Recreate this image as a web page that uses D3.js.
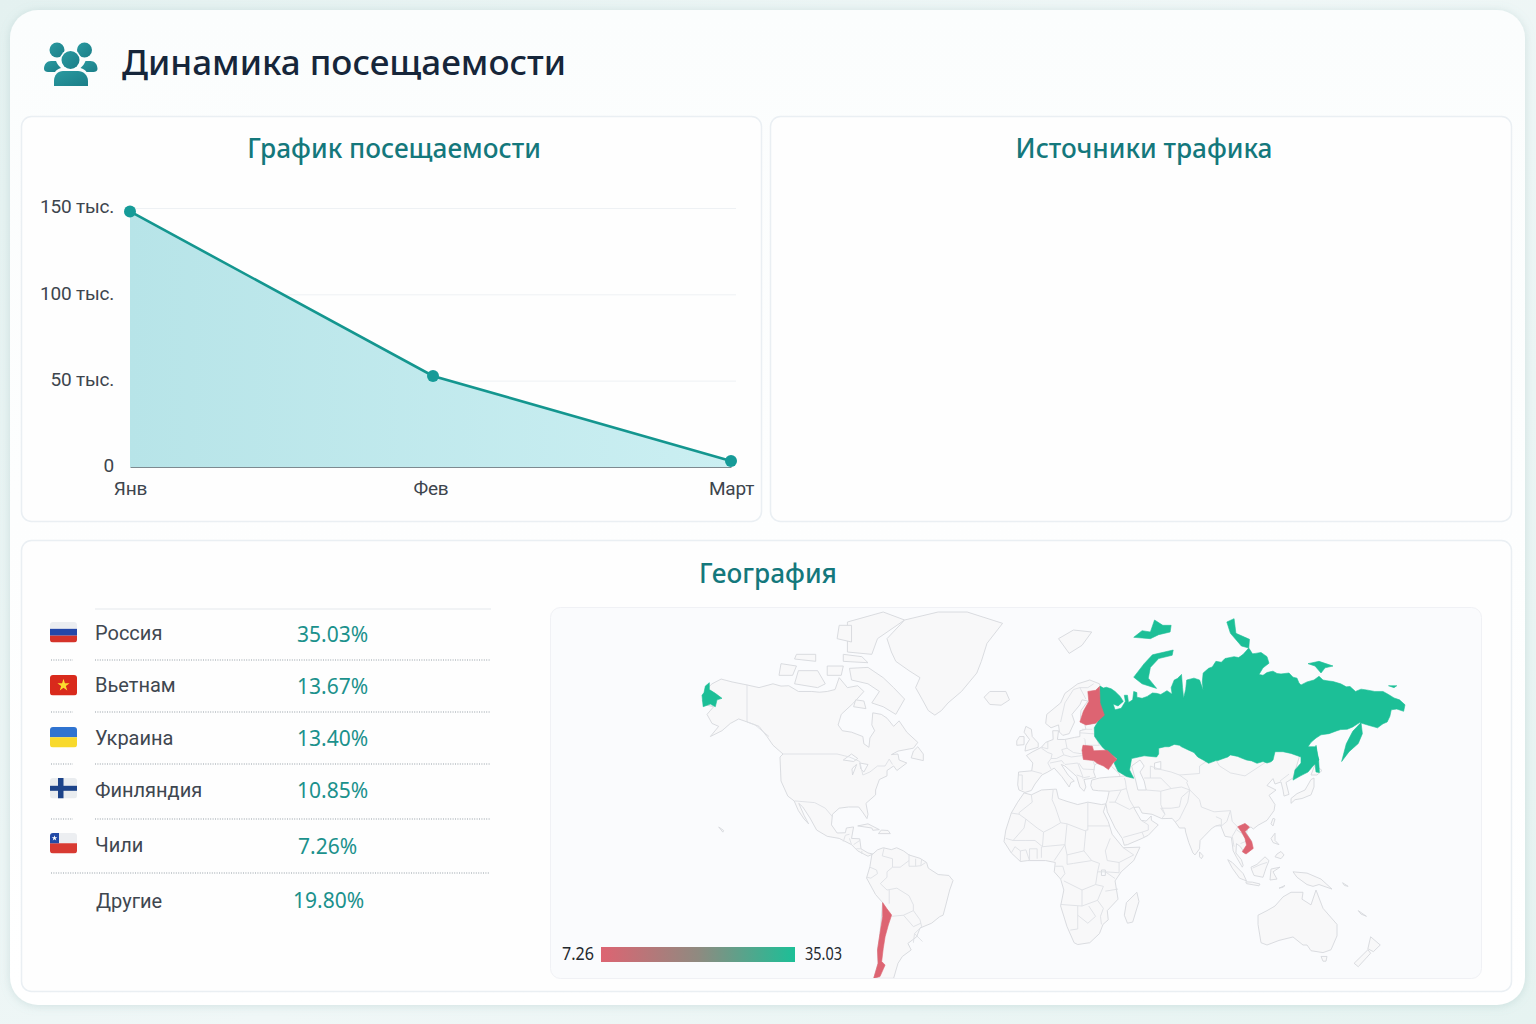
<!DOCTYPE html>
<html lang="ru">
<head>
<meta charset="utf-8">
<title>Динамика посещаемости</title>
<script src="https://cdn.jsdelivr.net/npm/d3@7"></script>
<style>
  html, body { margin: 0; padding: 0; width: 1536px; height: 1024px; overflow: hidden; background: linear-gradient(135deg, #e4f1f0, #f0f7f7 50%, #e6f3f1); }
  svg { display: block; }
  text { font-family: "Noto Sans", sans-serif; }
  .tick-label { font-family: Roboto, sans-serif; font-size: 19px; fill: #3d454d; }
</style>
</head>
<body>
<svg id="chart" width="1536" height="1024"></svg>
<script>
// attendance chart
const months = ['Янв', 'Фев', 'Март'];
const visits = [148, 52.7, 3.5];
const yTicks = [0, 50, 100, 150];

// geography table
const countries = ['Россия', 'Вьетнам', 'Украина', 'Финляндия', 'Чили', 'Другие'];
const shares = [35.03, 13.67, 13.4, 10.85, 7.26, 19.8];
const flagCodes = ['ru', 'vn', 'ua', 'fi', 'cl', null];

// outlines, [lon, lat]
const russia = [[31.3,69.4],[33,68.9],[34.5,69.1],[37,68.7],[39,68],[41.5,66.7],[43,65.4],[40.5,64.2],[38,64.7],[39,63.2],[42,63.6],[44,65.4],[43.5,67],[45,67],[45.5,65.1],[47.5,65.8],[48,68],[49.5,67.7],[49.5,66.5],[52,66.2],[54.5,66.7],[57,67.6],[59,67.5],[61,67.2],[64,68.2],[66.5,67.3],[66,69],[67.5,71],[69,71.3],[71,72.2],[71.5,69],[72,66.2],[73,68.5],[73.5,71],[77,71.4],[80,71],[82,68.4],[81.5,70.5],[82,72.5],[85,73.5],[87,73.8],[89,75],[92,74.8],[94,75.6],[99,76],[101.5,75.8],[104,76.5],[107.5,77.6],[110,76.6],[112,76.7],[115,76.9],[118,76],[119,74.6],[116,73.6],[114,72.2],[116,72],[118,72.6],[121,72.9],[123,72.4],[125,72.3],[129,72.5],[131,71.6],[133,71.4],[134,70.2],[135,69.7],[138,70.5],[141.5,71],[144,71.8],[146,71],[148,70.8],[151,70.6],[155,70],[158,69.2],[160,69.3],[162,68],[164,68.6],[166,68.4],[169,68],[172,68],[174,67.2],[176,66.3],[178,65.8],[180,64.5],[179.5,62.8],[177,63.4],[175,63.2],[174.5,61.5],[173.5,60],[172,59.4],[170,58],[167,58.8],[163.5,59.8],[161,58.3],[158.5,57.5],[155,57.4],[153,57],[149,56],[145,55.6],[142.5,54.5],[140,53],[138.5,51.5],[142.5,51.5],[143,49],[144,47],[141,45],[138.5,43],[135,41.8],[131,40.3],[132,43.7],[135,46],[135,48],[130,49.2],[126,49.8],[122,49.8],[121,47],[120,46.4],[118,46],[116,46.5],[113,45.9],[109.5,46.7],[106,47],[102,47.9],[101,48.2],[97,48.7],[95.5,48],[93.5,47.6],[90,46.8],[89,46.8],[85,45.9],[82,47],[79,48],[77,49.5],[74.5,50.3],[71,51.5],[70,52],[67.5,52.3],[65,51.5],[63,51.5],[60,51],[60,49],[59,48],[53,48.4],[47,47.5],[46,43.7],[48,40.9],[44.5,41.5],[40.5,43.2],[38.5,46],[40,47.5],[35,49.8],[32.3,51.5],[28.5,55],[28.3,58],[32,61.7],[30.5,65]];
const russiaFarEast = [[-163.6,70.3],[-166,69.4],[-166.8,67.7],[-168,67],[-167.3,64],[-163,64.7],[-160,64],[-159,65.8],[-156,66.2],[-160,67.5],[-163.6,68.5]];
const novayaZemlya = [[48,71.6],[53,74.5],[57,76.4],[67,77.3],[66.5,76.3],[60,75.6],[56,73.7],[55,71.4],[59,68.8],[52,70]];
const kamchatka = [[164,59.8],[161,56.8],[158,52.5],[155.5,46.5],[159.5,49.8],[163,52.6],[164.5,56]];
const sakhalin = [[142.5,52],[141.8,47],[142.5,43],[144.2,42.8],[143.8,47]];
const severnaya = [[95,81.5],[99,82],[100,79.8],[108,78.9],[107.5,77.6],[103,77.9],[97,79.8]];
const franzJosef = [[48,79.2],[52,80.2],[56,80],[58,81.8],[62,81],[66,81],[65.5,80],[60,79.6],[56,79]];
const newSiberian = [[138.5,74.5],[144,75],[151,74],[147,73.6],[145,72.5],[142,74]];
const wrangel = [[174,69.5],[177,69.5],[176,69]];

const finland = [[31,69.3],[29,68.3],[25,68],[25.5,65.4],[22.7,62.8],[21,60],[24,59],[29,59.6],[33.5,61.8],[31.3,65]];
const ukraine = [[22.5,52],[27.3,51.7],[28,50.1],[35,50.3],[40,47.2],[37.9,46],[35.6,43.8],[33,45],[30,45.8],[28,46.8],[22.7,47.2],[22,50.3]];
const vietnam = [[101,21.6],[105,23.2],[108,21.5],[105,19.2],[109.5,14.4],[110.5,11.2],[105.7,8.5],[103.5,9.6],[106,12.8],[105,16],[103,19.2]];
const chile = [[-72.3,-16.5],[-70.2,-19],[-67.9,-21.9],[-69.4,-26.3],[-71,-31.4],[-72,-37],[-72.8,-43.7],[-71,-45.5],[-73.7,-51.6],[-77,-52.5],[-74.7,-44.6],[-75,-37.6],[-73.7,-30],[-72.3,-22.7]];

const northAmerica = [[-168,65.6],[-164,66.5],[-166,68.3],[-162,70],[-156.5,71.2],[-150,70.5],[-141,69.7],[-135,69],[-128,70],[-124,69.4],[-120,69.5],[-115,68],[-108,68],[-104,67.8],[-100,68],[-96,68.5],[-94,71.5],[-90,69],[-85,69.5],[-82,68],[-87,65],[-93,62],[-94.5,59],[-92.5,57],[-88,56.5],[-82.5,55],[-82,52.5],[-79.5,51.3],[-79,54.5],[-76.5,57],[-78,59],[-77.5,62.4],[-73,62],[-70,61],[-67,58.5],[-64.5,60.3],[-61,56.5],[-56,53],[-58,51],[-65,50],[-68,48.8],[-65,49],[-64.5,47],[-61,46],[-65.5,43.5],[-67,45],[-70,43.5],[-70,41.7],[-74,40.5],[-76,37],[-76,35],[-81,31.5],[-80,27],[-80.5,25.2],[-82.7,28],[-84.5,30],[-89.5,30],[-94,29.5],[-97.3,27],[-97.8,22.5],[-95,18.6],[-91,18.7],[-90.5,21],[-87,21.5],[-88,16],[-84,15.8],[-83.4,11],[-80,9],[-77.5,8.5],[-80,7.3],[-85,10],[-88,13],[-94,16],[-100,17],[-105.5,20],[-109,25.5],[-112.7,30],[-114.8,31.5],[-112,26.5],[-109.7,23],[-112,25],[-115,28.5],[-117.2,32.5],[-120.5,34.5],[-124,40],[-124.5,48],[-123,49],[-128,52],[-131,55],[-135,58.5],[-140,59.8],[-146,60.8],[-151,59.5],[-156,57],[-163,55],[-158,58.5],[-162,59.5],[-165,62],[-161,64],[-166,64.5]];
const southAmerica = [[-78,8],[-75,10.5],[-72,11.5],[-68,10.6],[-65.6,11.5],[-62.5,10],[-60,8],[-55,6.2],[-51,4],[-50,1],[-44,-2.5],[-37.5,-3],[-35,-5.8],[-37,-11],[-39.5,-18],[-41,-22],[-43,-22.6],[-48,-25.5],[-55,-27.6],[-56.5,-31.4],[-60.5,-34.3],[-59,-37.6],[-63,-41],[-65,-44.6],[-67,-52.5],[-77,-52.5],[-74.7,-44.6],[-75,-37.6],[-73.7,-30],[-72.3,-16.5],[-76,-13],[-80.7,-4.4],[-79,1.8]];
const africa = [[-6,35.8],[-2,35],[3,37],[10,37.3],[11,33.5],[15,32.3],[20,31],[25,32],[32,31],[34.3,31.3],[33,28],[35.5,24],[37.5,18],[43,11.5],[51,11.8],[48,5],[42,-1],[39,-6],[40.5,-15],[35,-20],[35.5,-24],[32.8,-26],[31,-30],[26,-34],[20,-34.8],[18.3,-34],[15,-27],[12,-18],[13.5,-11],[12,-5],[9,-1],[9.5,4],[5,5],[-4,5],[-8,4.5],[-13,9],[-17,14.5],[-16,20],[-13,27.5],[-9.5,32]];
const eurasia = [[31,70],[26,71],[20,70],[14,67.5],[12,65],[5.5,62],[5,59.5],[7.5,58],[11,59],[11.5,56.5],[13,55.4],[16,56],[18.5,60],[17.3,62],[21,64.5],[22,65.8],[25,65.5],[21.5,63],[21.3,61],[23,60],[30,60],[28,59.5],[23.5,59],[24,57.5],[21,57],[21,55],[18.5,54.7],[14,54],[10.5,54],[11,57],[8.3,57],[8.5,54],[5,53],[3,51.3],[-1.5,49.7],[-4.7,48.5],[-1.2,46],[-1.8,43.4],[-9,43],[-9.5,38.7],[-8.8,37],[-5.5,36],[-2,36.8],[0,39],[3.2,42],[6,43],[9,44.3],[12.5,41.5],[16,38],[16.8,39.5],[18.4,40],[15.5,42],[12.3,45.5],[14,45],[19.5,41.5],[21,38],[23,36.5],[24,38],[23,40.5],[26,40.8],[29,41.2],[28,43],[28.5,45.2],[30.7,46.5],[33,46],[37,46.5],[38,47],[37,45],[41,42.5],[41.5,41.5],[36,41.3],[31,41],[27,40.3],[26.5,38.5],[27.5,37],[30.5,36.7],[36,36.5],[35,33],[34.3,31.3],[34.7,29.5],[35,28],[39,21],[42.5,16],[43.5,12.7],[45,13],[52,16],[55,17.5],[59.8,22.5],[56.5,24.5],[56.4,26.3],[54,24.2],[51.5,24.5],[50.5,26],[48,29.8],[50.5,30],[52,27.5],[56.8,27],[61.5,25.2],[66.5,25.3],[68,23.8],[70,21],[72.7,21],[73,19],[74.5,14],[76.5,9],[77.5,8],[80,11],[80.3,15],[82.5,17],[87,21],[89,22],[91.5,22.5],[94,17],[97.5,16.5],[98.5,10],[100.5,6.5],[103.5,1.5],[104,2.5],[103,5.5],[100,9],[100.3,13.5],[102.5,12],[105,8.6],[106.5,10],[109,11.5],[109,15],[106,18.5],[106.7,20.5],[109,21.5],[110.5,20.5],[113.5,22.3],[118,24.5],[121.5,28.5],[122,31],[119,34.8],[122.5,37],[118,38.5],[121,40.8],[122,39],[125,39.7],[126,37],[126.5,34.5],[129,35.2],[127.5,39.5],[131,41],[135,50],[100,52],[60,53],[42,52],[33,60],[33,66]];
const islands = [
  [[-62,66],[-66,62],[-72,64],[-78,65],[-74,68],[-80,70],[-88,71],[-89,73.5],[-80,73.7],[-72,71.5],[-67,69]],
  [[-117,70],[-105,69],[-101,70],[-105,73],[-115,73]],
  [[-125,72],[-118,72],[-116,74],[-124,74.5]],
  [[-90,77],[-78,76.5],[-75,79],[-62,81.8],[-72,83],[-90,81.5]],
  [[-92,75],[-80,74.7],[-83,76],[-92,76.5]],
  [[-117,75.5],[-106,75],[-106,76.5],[-116,76.5]],
  [[-95,79],[-88,78.5],[-88,81],[-94,81]],
  [[-87,64],[-81,63.5],[-82,65.5],[-86,65.8]],
  [[-100,72],[-93,72],[-92,74],[-100,74]],
  [[-59,47.7],[-53,46.8],[-53,49],[-56,51.5],[-58,50]],
  [[-62,81.8],[-70,79],[-68,77],[-66,75],[-60,73],[-55,71.5],[-57,69],[-53.5,65.8],[-50,63],[-46,61.8],[-42,63],[-38,65],[-32,68],[-26.6,72.5],[-25,75],[-23,78.3],[-17.5,81.3],[-30,83],[-44,83]],
  [[-24,66.5],[-22,64.6],[-18,64.4],[-14,65.8],[-16,68],[-22,68]],
  [[-5.5,50],[1.5,51.3],[1.5,52.8],[-1.5,55],[-2,57.5],[-5,58.5],[-6,56.5],[-3,54],[-5,52]],
  [[-10,52],[-6,52.2],[-6,55],[-8.5,55],[-10,53.5]],
  [[11,79],[16,76.7],[22,78],[27,80],[18,80.3]],
  [[-85,22],[-80,23],[-74,20.2],[-77.5,19.9],[-78,21]],
  [[-74.5,18.3],[-68.5,18.3],[-69.5,19.8],[-73,20]],
  [[-158,21.5],[-155,19.8],[-155.5,19]],
  [[49.5,-12],[50.5,-16],[47.5,-25],[45,-25.5],[43.5,-22],[44.5,-16.5]],
  [[80,9.5],[82,7.5],[81,6],[80,7]],
  [[130,31.5],[132,33],[135.5,33.5],[140,35],[141.5,38],[141.5,41],[140,40.5],[137,37],[133,35.5],[130,33.5]],
  [[140,42],[143,42],[145.5,43.5],[142,45.5]],
  [[120,23],[121,22],[122,25],[121,25.3]],
  [[120,16],[122,18.5],[122,15],[124,13],[121,14]],
  [[122,7],[125,6],[126.5,8],[125,9.7],[123,8.5]],
  [[109,1.5],[113,3],[117,7],[119,5],[117.5,1],[116,-4],[111,-3],[109.5,0]],
  [[95.5,5.5],[98,4],[104,-2],[106,-6],[102,-4.5],[98,1]],
  [[105.5,-6.5],[110,-6.7],[114.5,-7.7],[114,-8.7],[106,-7.5]],
  [[119.5,-5.5],[120,0.5],[124.5,1.5],[121,-1],[123,-5]],
  [[131,-1],[138,-1.7],[145,-5],[148,-8],[150.5,-10.5],[144,-8],[141,-9],[138,-8],[133,-4]],
  [[124,-10],[127,-8.5],[126,-9.5]],
  [[156,-7],[159,-9],[157,-8.5]],
  [[163,-20],[166,-22.5],[164,-21.5]],
  [[113.5,-22],[118,-20],[122,-18],[126,-14],[130,-12],[136,-12],[135.5,-15],[140,-17.5],[142.5,-11],[146,-19],[150,-23],[153,-26],[153,-31],[150,-37.5],[146,-39],[140,-38],[138,-35],[136,-35],[131,-31.5],[124,-33],[118,-35],[115,-34],[113.5,-26]],
  [[145,-41],[148,-41],[147.5,-43.5],[146,-43.5]],
  [[167.5,-31.4],[171,-35],[168.5,-38.5],[166.5,-37]],
  [[166.5,-37.5],[167.5,-39.3],[163,-46.4],[161.5,-44.6]]
];
const lakes = [
  [[47,45],[51,47],[53,45],[51,43],[53,40],[54,37],[50,37],[49,40]],
  [[58,46],[61,46.5],[61,44],[58,44]],
  [[-92,47],[-88,49],[-85,47.5],[-87,46.5]],
  [[-87.5,42],[-85.5,45.5],[-86.5,45],[-87.8,44]],
  [[-84,46],[-80,45.5],[-82,43],[-83.5,44]],
  [[32,0],[34,0],[34,-3],[32,-3]]
];
const borders = [
  [[-141,69.7],[-141,60],[-137,59],[-130,55]],
  [[-123,49],[-95,49],[-89,48],[-84,46.5],[-82.5,42],[-79,43],[-75,45],[-71,45],[-69,47.3],[-67.5,45.5]],
  [[-117,32.5],[-106.5,31.8],[-101,29.5],[-97.3,26]],
  [[-92,14.5],[-91,17.5],[-89,18]],[[-89,16],[-88,13]],[[-87,13],[-84,15]],[[-85.7,11],[-83.5,11]],[[-83,8.5],[-83,10]],
  [[-71.5,11.5],[-72.5,7.5],[-67.5,6],[-67.5,1.5],[-70,-1],[-70,-4]],
  [[-79,1.5],[-75.5,0],[-75,-2],[-78.5,-4.5],[-80.5,-4]],
  [[-60,8.5],[-60,5],[-60,2],[-57,2],[-54.5,2.3],[-51.5,4]],[[-57,6],[-57,2]],[[-54,5.8],[-54.5,2.3]],
  [[-70,-4],[-73.5,-7.5],[-70,-11],[-65.5,-10],[-60,-13.5],[-58,-17.5],[-58,-20],[-55,-24],[-54,-27],[-57.5,-30],[-53.5,-33.5]],
  [[-67.5,1.5],[-64,1.5],[-60,5]],[[-69,-11],[-69,-17]],[[-68,-22.5],[-62.5,-22],[-58,-20]],[[-62.5,-22],[-58,-27],[-54.5,-25.5]],[[-58,-34],[-57.5,-30]],
  [[-2,35],[-1.5,32],[-8.7,27.7],[-8.7,27],[-13,27.5]],[[-8.7,27],[-5,25],[-6,21],[-12,15],[-16,16]],
  [[-5,25],[1,21],[4,19],[7.5,20.8],[12,23.5],[9.5,30],[8,33],[8.5,37]],[[25,32],[25,20],[24,20]],[[12,23.5],[15,23],[24,19.5]],[[25,22],[36,22]],
  [[24,20],[23,10],[27,5]],[[36.5,16],[34,10],[35,5],[41,4],[48,8],[43,11.5]],[[4,19],[3.5,12],[0,15],[-5,15],[-12,15]],
  [[3,12],[3,6.5]],[[3.5,12],[14,13],[9,5]],[[14,13],[15,23]],[[14,13],[15,8],[23,10]],
  [[15,8],[15,3],[18,3.5],[27,5],[31,3.5],[30,-1],[29,-8],[22,-11],[13.5,-6]],[[34,-1],[41,-1.5],[41,4]],[[30,-1],[34,-1],[39,-4.7]],[[34,-11.5],[40.5,-10.5]],
  [[12,-17.3],[22,-18],[22,-11]],[[20,-18],[20,-28],[16.5,-28.5]],[[20,-22],[25,-25.5],[29,-22.5],[25.5,-18]],[[22,-18],[30,-15.5],[33,-9],[29,-8]],[[30,-15.5],[33,-19],[31.5,-22.5],[32,-26]],
  [[9.5,2],[13,2],[14,-2],[12,-5]],[[-8,4.5],[-8,10],[-5,10.5],[-3,5],[-3,11],[1,11],[1,6]],[[-13,9],[-11,12],[-8,10]],
  [[-1.8,43.4],[3.2,42.5]],[[-8.8,42],[-7,42],[-7,37]],[[3,51],[6,49.5],[8,49],[7.5,47.5],[6,46],[7.5,44]],
  [[14.2,54],[15,51],[12.5,50.5],[13.5,48.7],[10,47.5],[7.5,47.5]],[[7,46],[12.5,46.8],[13.7,45.7]],[[18,49.5],[22.5,49],[24,51],[23.5,54],[23,54.4]],
  [[21,56.3],[26.5,56],[28,56]],[[22,57.5],[27.3,57.5]],[[23.5,52],[31,52],[28,56]],[[15,51],[18,49.5]],[[13.5,48.7],[17,48],[22.5,48.5]],
  [[22,48],[27,48],[28.5,45.2]],[[20.5,46],[22.5,44],[28.5,43.8]],[[14,45.5],[20,46],[22.5,41.3],[19.5,42]],[[22,41],[26,41.5]],
  [[12,60],[14,65],[18,68.5],[21,69],[25,69],[28,70]],[[24,66],[21,69]],[[6,53.3],[6,50.8],[3,51.3]],
  [[36,36.5],[42,37],[44.5,37.5],[44,40],[43.5,41]],[[41.5,41.5],[46,41.8],[48,41.5]],[[44.5,37.5],[46,33],[48,30]],[[61,36.5],[61,31],[63,27],[61.5,25.2]],[[54,37],[61,36.5]],
  [[36,32],[39,32],[42,37]],[[39,32],[46,29],[48,30]],[[43,16.5],[52,19],[55,20],[55,22.5],[51.5,24.5]],[[52,19],[53,16.5]],
  [[53,41],[56,41],[56,45],[60,44],[66,43],[70,42],[80,42.5],[80,45],[85,47],[87,49]],[[56,41],[61,41],[66,37.5],[61,36.5]],
  [[66,37.5],[71,38],[75,37],[71,34],[70,30],[66,29.5],[61,29.5]],[[75,37],[74,32],[70,25],[68,23.8]],[[61,29.5],[63,27]],[[70,42],[74,40],[73.5,39.5],[75,37]],
  [[75,37],[80,33],[81,30],[88,28],[97,28.5],[95,24],[92,22]],[[97,28.5],[98,24],[101,21.5],[105,23]],[[101,21.5],[98,17],[99,12]],[[100.5,20],[104,18],[107,15],[102.5,13.5]],
  [[87,49],[91,45],[97,42.7],[105,41.7],[112,44],[119,47],[120,48]],[[124.5,40],[129,42.3]],[[89,26],[92,25],[92,22],[89,22]],[[110,1],[115,3],[118,4]]
];

const green = '#1cbf97';
const red = '#dd6472';
const teal = '#14968f';

const svg = d3.select('#chart');
const defs = svg.append('defs');

const shadow = defs.append('filter').attr('id', 'cardShadow').attr('x', '-5%').attr('y', '-5%').attr('width', '110%').attr('height', '110%');
shadow.append('feDropShadow').attr('dx', 0).attr('dy', 1).attr('stdDeviation', 5).attr('flood-color', '#7fa9a8').attr('flood-opacity', 0.28);

const cardGrad = defs.append('linearGradient').attr('id', 'cardFill').attr('x1', 0).attr('y1', 0).attr('x2', 0).attr('y2', 1);
cardGrad.append('stop').attr('offset', 0).attr('stop-color', '#fbfdfd');
cardGrad.append('stop').attr('offset', 1).attr('stop-color', '#ffffff');

const areaGrad = defs.append('linearGradient').attr('id', 'areaFill').attr('x1', 0).attr('y1', 0).attr('x2', 1).attr('y2', 0);
areaGrad.append('stop').attr('offset', 0).attr('stop-color', '#b7e4e8');
areaGrad.append('stop').attr('offset', 1).attr('stop-color', '#cbeff2');

const iconGrad = defs.append('linearGradient').attr('id', 'iconFill').attr('x1', 0).attr('y1', 0).attr('x2', 1).attr('y2', 1);
iconGrad.append('stop').attr('offset', 0).attr('stop-color', '#2a9aa0');
iconGrad.append('stop').attr('offset', 1).attr('stop-color', '#1b7e88');

const legendGrad = defs.append('linearGradient').attr('id', 'legendFill');
legendGrad.append('stop').attr('offset', 0).attr('stop-color', red);
legendGrad.append('stop').attr('offset', 0.5).attr('stop-color', '#8f8a80');
legendGrad.append('stop').attr('offset', 1).attr('stop-color', green);

defs.append('clipPath').attr('id', 'mapClip').append('rect')
  .attr('x', 550).attr('y', 607).attr('width', 932).attr('height', 371).attr('rx', 10);

// cards
svg.append('rect').attr('x', 10).attr('y', 10).attr('width', 1515).attr('height', 995).attr('rx', 28)
  .attr('fill', 'url(#cardFill)').attr('filter', 'url(#cardShadow)');

function panel(x, y, w, h) {
  svg.append('rect').attr('x', x).attr('y', y).attr('width', w).attr('height', h).attr('rx', 10)
    .attr('fill', '#fefefe').attr('stroke', '#eaeff3').attr('stroke-width', 1.5);
}
panel(21.5, 116.5, 740, 405);
panel(770.5, 116.5, 741, 405);
panel(21.5, 540.5, 1490, 451);

// header icon
const icon = svg.append('g').attr('fill', 'url(#iconFill)');
[[57, 50, 7.5], [84.5, 50, 7.5]].forEach(c => icon.append('circle').attr('cx', c[0]).attr('cy', c[1]).attr('r', c[2]));
icon.append('path').attr('d', 'M44 69c0-5 3-8 7-8h5c1 3 3 5 5 7-3 1-5 2-6 4h-7c-2 0-4-1-4-3z');
icon.append('path').attr('d', 'M97.5 69c0-5-3-8-7-8h-5c-1 3-3 5-5 7 3 1 5 2 6 4h7c2 0 4-1 4-3z');
icon.append('circle').attr('cx', 70.5).attr('cy', 60).attr('r', 10.5).attr('fill', '#ffffff');
icon.append('circle').attr('cx', 70.5).attr('cy', 60).attr('r', 9);
icon.append('path').attr('d', 'M54 86v-5c0-6 4-10 9-10h15c5 0 10 4 10 10v5z');

svg.append('text').attr('x', 122).attr('y', 75).attr('font-size', 35).attr('font-weight', 500).attr('fill', '#16263a').text('Динамика посещаемости');

function sectionTitle(label, cx, y) {
  svg.append('text').attr('x', cx).attr('y', y).attr('text-anchor', 'middle')
    .attr('font-size', 26.2).attr('font-weight', 500).attr('fill', '#14787c').text(label);
}
sectionTitle('График посещаемости', 394, 158);
sectionTitle('Источники трафика', 1144, 158);
sectionTitle('География', 768, 583);

// line chart
const x = d3.scaleLinear().domain([0, 1, 2]).range([130, 433, 731]);
const xLabels = d3.scalePoint().domain(months).range([130, 731]);
const y = d3.scaleLinear().domain([0, 150]).range([467, 208]);

const grid = svg.append('g').attr('transform', 'translate(130,0)')
  .call(d3.axisLeft(y).tickValues(yTicks.slice(1)).tickSize(-606).tickFormat(''));
grid.select('.domain').remove();
grid.selectAll('line').attr('stroke', '#eef1f4');

const yAxis = svg.append('g').attr('transform', 'translate(130,0)')
  .call(d3.axisLeft(y).tickValues(yTicks).tickSize(0).tickPadding(16).tickFormat(d => d === 0 ? '0' : d + ' тыс.'));
yAxis.select('.domain').remove();
yAxis.selectAll('text').attr('class', 'tick-label').attr('dy', '0.25em').style('letter-spacing', '-0.2px');

const area = d3.area().x((d, i) => x(i)).y0(y(0)).y1(d => y(d));
const line = d3.line().x((d, i) => x(i)).y(d => y(d));
svg.append('path').datum(visits).attr('d', area).attr('fill', 'url(#areaFill)');

const xAxis = svg.append('g').attr('transform', `translate(0,${y(0)})`)
  .call(d3.axisBottom(xLabels).tickSize(0).tickPadding(15));
xAxis.select('.domain').attr('stroke', '#7d8a90').attr('stroke-width', 1.2);
xAxis.selectAll('text').attr('class', 'tick-label').style('letter-spacing', '-0.2px');

svg.append('path').datum(visits).attr('d', line).attr('fill', 'none').attr('stroke', teal).attr('stroke-width', 2.6);
svg.selectAll('.dot').data(visits).join('circle').attr('class', 'dot')
  .attr('cx', (d, i) => x(i)).attr('cy', d => y(d)).attr('r', 6).attr('fill', '#169b98');

// country table
const rowNameY = d3.scaleOrdinal().domain(countries).range([640, 692, 745, 797, 852, 908]);
const rowValueY = d3.scaleOrdinal().domain(countries).range([642, 694, 746, 798, 854, 908]);
const rowValueX = d3.scaleOrdinal().domain(countries).range([297, 297, 297, 297, 298, 293]);
const flagY = d3.scaleOrdinal().domain(countries).range([622, 675, 727, 778, 833, 0]);

function drawFlag(g, code) {
  const w = 27, h = 20.5;
  const cid = 'flag-' + code;
  defs.append('clipPath').attr('id', cid).append('rect').attr('width', w).attr('height', h).attr('rx', 3);
  const f = g.append('g').attr('clip-path', `url(#${cid})`);
  const r = (rx, ry, rw, rh, c) => f.append('rect').attr('x', rx).attr('y', ry).attr('width', rw).attr('height', rh).attr('fill', c);
  if (code === 'ru') { r(0, 0, w, h / 3, '#eceef1'); r(0, h / 3, w, h / 3, '#2447a8'); r(0, 2 * h / 3, w, h / 3, '#d5332a'); }
  if (code === 'vn') {
    r(0, 0, w, h, '#d92a1c');
    const star = d3.symbol().type(d3.symbolStar).size(46);
    f.append('path').attr('d', star).attr('transform', `translate(${w / 2},${h / 2})`).attr('fill', '#fbdc2e');
  }
  if (code === 'ua') { r(0, 0, w, h / 2, '#2f73d0'); r(0, h / 2, w, h / 2, '#f8d92c'); }
  if (code === 'fi') { r(0, 0, w, h, '#e9ecef'); r(8, 0, 5.5, h, '#1c4389'); r(0, 7.8, w, 5, '#1c4389'); }
  if (code === 'cl') {
    r(0, 0, w, h / 2, '#eceef1'); r(0, h / 2, w, h / 2, '#d83a32'); r(0, 0, 9, h / 2, '#234aa6');
    const star = d3.symbol().type(d3.symbolStar).size(10);
    f.append('path').attr('d', star).attr('transform', `translate(4.5,${h / 4})`).attr('fill', '#fff');
  }
}

const rows = svg.append('g');
countries.forEach((name, i) => {
  if (flagCodes[i]) drawFlag(rows.append('g').attr('transform', `translate(50,${flagY(name)})`), flagCodes[i]);
  rows.append('text').attr('x', i === 5 ? 96 : 95).attr('y', rowNameY(name)).attr('font-size', 20).attr('fill', '#3f4750')
    .style('font-family', 'Roboto, sans-serif').text(name);
  rows.append('text').attr('x', rowValueX(name)).attr('y', rowValueY(name)).attr('font-size', 21).attr('fill', '#1b918c')
    .text(shares[i].toFixed(2) + '%');
});

rows.append('line').attr('x1', 95).attr('x2', 491).attr('y1', 609).attr('y2', 609).attr('stroke', '#e4e7eb').attr('stroke-width', 1.2);
const ruleY = [660, 712, 764, 819];
ruleY.forEach(ry => {
  [[51, 73], [95, 490]].forEach(s => rows.append('line').attr('x1', s[0]).attr('x2', s[1]).attr('y1', ry).attr('y2', ry)
    .attr('stroke', '#b8bec4').attr('stroke-width', 1.3).attr('stroke-dasharray', '1 1.4'));
});
rows.append('line').attr('x1', 51).attr('x2', 489).attr('y1', 873).attr('y2', 873)
  .attr('stroke', '#b8bec4').attr('stroke-width', 1.3).attr('stroke-dasharray', '1 1.4');

// map panel
svg.append('rect').attr('x', 550.5).attr('y', 607.5).attr('width', 931).attr('height', 371).attr('rx', 10)
  .attr('fill', '#fafbfd').attr('stroke', '#f0f1f5');

// the source map is not a clean projection, so lon/lat go through piecewise scales
const lonScale = d3.scaleLinear()
  .domain([-168, -141, -123, -97, -80, -70, -55, -35, -17, 0, 22, 40, 51, 77.5, 105, 113, 153, 160, 180])
  .range([702, 747, 783, 833, 868, 887, 920, 953, 1004, 1035, 1082, 1117, 1140, 1195, 1245, 1257, 1337, 1350, 1405]);
const latScale = d3.scaleLinear()
  .domain([-56, -35, -11, 0, 8.5, 23.4, 37, 49, 60, 71, 77, 83])
  .range([985, 945, 890, 870, 854, 823, 790, 754, 722, 680, 652, 612]);
const mapPath = d3.geoPath(d3.geoTransform({
  point(lon, lat) { this.stream.point(lonScale(lon), latScale(lat)); }
}));
const poly = pts => ({ type: 'Polygon', coordinates: [pts.concat([pts[0]])] });
const polyline = pts => ({ type: 'LineString', coordinates: pts });
const shareColor = d3.scaleThreshold().domain([20]).range([red, green]);

const map = svg.append('g').attr('clip-path', 'url(#mapClip)');
map.append('g').selectAll('path').data([northAmerica, southAmerica, africa, eurasia, ...islands]).join('path')
  .attr('d', d => mapPath(poly(d))).attr('fill', '#f8f8f9').attr('stroke', '#d6d8dc').attr('stroke-width', 0.9).attr('stroke-linejoin', 'round');
map.append('g').selectAll('path').data(lakes).join('path')
  .attr('d', d => mapPath(poly(d))).attr('fill', '#fafbfd').attr('stroke', '#d6d8dc').attr('stroke-width', 0.9);
map.append('g').selectAll('path').data(borders).join('path')
  .attr('d', d => mapPath(polyline(d))).attr('fill', 'none').attr('stroke', '#dee0e4').attr('stroke-width', 0.9);

const highlighted = [
  [russia, shares[0]], [russiaFarEast, shares[0]], [novayaZemlya, shares[0]], [kamchatka, shares[0]], [sakhalin, shares[0]],
  [severnaya, shares[0]], [franzJosef, shares[0]], [newSiberian, shares[0]], [wrangel, shares[0]],
  [vietnam, shares[1]], [ukraine, shares[2]], [finland, shares[3]], [chile, shares[4]]
];
map.append('g').selectAll('path').data(highlighted).join('path')
  .attr('d', d => mapPath(poly(d[0]))).attr('fill', d => shareColor(d[1]))
  .attr('stroke', d => shareColor(d[1])).attr('stroke-width', 0.6).attr('stroke-linejoin', 'round');

// colour legend
const legendX = d3.scaleLinear().domain([d3.min(shares), d3.max(shares)]).range([601, 795]);
svg.append('rect').attr('x', legendX.range()[0]).attr('y', 947).attr('width', legendX.range()[1] - legendX.range()[0]).attr('height', 15).attr('fill', 'url(#legendFill)');
svg.append('text').attr('x', 562).attr('y', 960).attr('font-size', 18).attr('fill', '#23282d')
  .attr('textLength', 32).attr('lengthAdjust', 'spacingAndGlyphs').text(legendX.domain()[0].toFixed(2));
svg.append('text').attr('x', 805).attr('y', 960).attr('font-size', 18).attr('fill', '#23282d')
  .attr('textLength', 37).attr('lengthAdjust', 'spacingAndGlyphs').text(legendX.domain()[1].toFixed(2));
</script>
</body>
</html>
